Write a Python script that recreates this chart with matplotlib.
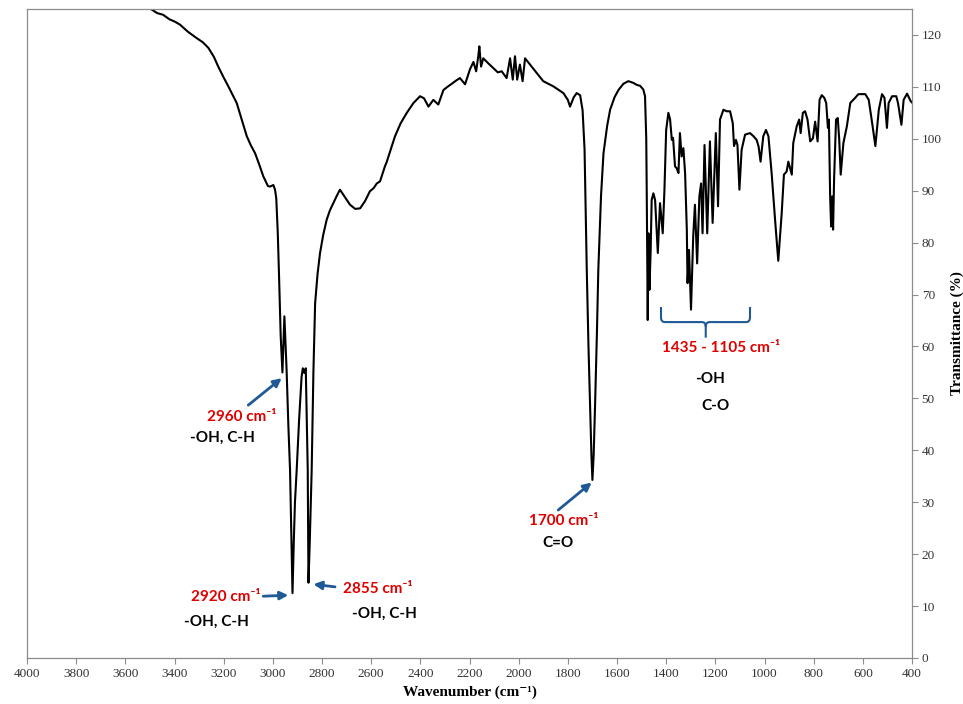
import numpy as np
import matplotlib
matplotlib.use('Agg')
import matplotlib.pyplot as plt
from matplotlib.path import Path
from matplotlib.patches import PathPatch

# spectrum (wavenumber cm-1, transmittance %)
wavenumber = [
	3493, 3470, 3447, 3420, 3400, 3378, 3345, 3310, 3285, 3262, 3240, 3222, 3200, 3181, 3165,
	3147, 3125, 3106, 3090, 3072, 3055, 3039, 3020, 3011, 2998, 2991, 2986, 2980, 2975, 2968,
	2961, 2953, 2948, 2944, 2937, 2930, 2924, 2920, 2915, 2910, 2903, 2893, 2883, 2878, 2872,
	2866, 2862, 2858, 2855, 2850, 2842, 2835, 2828, 2818, 2808, 2795, 2781, 2768, 2754, 2740,
	2727, 2710, 2686, 2665, 2645, 2625, 2605, 2590, 2577, 2564, 2544, 2537, 2520, 2503, 2480,
	2455, 2428, 2401, 2385, 2367, 2347, 2327, 2306, 2290, 2272, 2255, 2239, 2218, 2198, 2184,
	2173, 2164, 2160, 2153, 2144, 2125, 2103, 2085, 2069, 2049, 2035, 2024, 2015, 2006, 1995,
	1984, 1974, 1954, 1927, 1900, 1859, 1818, 1800, 1791, 1776, 1764, 1750, 1740, 1732, 1723,
	1716, 1710, 1704, 1700, 1695, 1689, 1682, 1676, 1665, 1655, 1640, 1628, 1610, 1594, 1574,
	1554, 1535, 1520, 1506, 1493, 1486, 1481, 1479, 1475, 1472, 1468, 1463, 1459, 1452, 1445,
	1434, 1425, 1414, 1407, 1400, 1391, 1384, 1377, 1372, 1364, 1357, 1350, 1344, 1337, 1330,
	1323, 1316, 1313, 1307, 1299, 1290, 1283, 1274, 1265, 1258, 1252, 1244, 1233, 1222, 1211,
	1198, 1189, 1181, 1167, 1154, 1140, 1129, 1124, 1116, 1110, 1102, 1093, 1079, 1059, 1045,
	1032, 1024, 1016, 1005, 994, 984, 971, 957, 944, 930, 921, 910, 903, 889, 883,
	869, 859, 853, 844, 835, 825, 814, 803, 794, 784, 776, 767, 757, 749, 742,
	738, 733, 729, 725, 721, 717, 709, 702, 696, 690, 679, 665, 651, 631, 618,
	590, 576, 562, 549, 535, 522, 512, 502, 495, 481, 464, 457, 443, 434, 420,
	406, 400,
]
transmittance = [
	124.9, 124.2, 123.9, 123.0, 122.6, 122.0, 120.6, 119.4, 118.6, 117.5, 115.8, 113.9, 111.8, 110.1, 108.6,
	106.9, 103.5, 100.5, 98.8, 97.2, 95.0, 92.8, 90.9, 90.8, 91.1, 90.2, 88.5, 82.0, 74.0, 62.0,
	55.0, 65.8, 60.0, 55.5, 45.0, 36.2, 22.0, 12.5, 22.0, 30.0, 36.2, 46.0, 54.2, 55.8, 54.9,
	55.8, 46.0, 36.2, 14.5, 22.0, 36.2, 55.0, 68.3, 74.0, 78.0, 81.5, 84.4, 86.2, 87.6, 89.0,
	90.2, 89.0, 87.3, 86.5, 86.6, 88.0, 89.9, 90.5, 91.4, 91.8, 94.7, 95.5, 98.0, 100.5, 103.0,
	105.0, 106.9, 108.2, 107.8, 106.2, 107.5, 106.6, 109.4, 110.0, 110.6, 111.2, 111.7, 110.5, 113.4, 114.8,
	113.0, 116.0, 117.8, 113.9, 115.5, 114.6, 113.6, 112.8, 113.0, 111.7, 115.5, 111.4, 115.9, 111.4, 114.3,
	111.1, 115.5, 114.3, 112.7, 111.1, 110.1, 108.8, 107.5, 106.2, 108.0, 108.8, 108.4, 105.5, 98.0, 74.8,
	60.0, 49.1, 39.0, 34.3, 39.0, 49.1, 62.0, 74.8, 89.0, 97.2, 102.5, 105.6, 108.0, 109.4, 110.6,
	111.1, 110.8, 110.4, 110.2, 109.5, 108.2, 100.0, 89.5, 65.1, 81.8, 70.9, 78.6, 88.2, 89.5, 88.2,
	78.0, 87.6, 81.8, 90.2, 101.7, 105.0, 103.7, 99.8, 100.2, 94.7, 94.3, 93.4, 101.1, 96.6, 98.2,
	93.4, 82.5, 72.2, 78.6, 67.1, 81.2, 87.3, 76.0, 88.9, 91.4, 81.8, 98.8, 81.8, 99.5, 83.8,
	101.1, 87.0, 103.7, 105.6, 105.3, 105.3, 103.0, 98.6, 99.8, 98.8, 90.2, 97.9, 100.8, 101.1, 100.5,
	99.8, 98.5, 95.6, 100.5, 101.7, 100.5, 93.4, 84.4, 76.5, 85.7, 93.1, 93.7, 95.6, 93.1, 99.2,
	102.4, 103.7, 101.1, 105.0, 105.3, 103.7, 99.5, 100.1, 103.3, 99.5, 107.5, 108.4, 107.9, 106.9, 102.1,
	103.7, 88.9, 83.1, 88.9, 82.5, 92.1, 103.7, 104.0, 99.8, 93.1, 99.2, 102.4, 106.9, 107.9, 108.6,
	108.6, 107.5, 103.0, 98.6, 105.6, 108.6, 107.9, 102.1, 106.9, 108.2, 108.2, 106.9, 102.7, 107.5, 108.7,
	107.3, 107.0,
]

xTicks = list(range(4000, 399, -200))
yTicks = list(range(0, 121, 10))

# peak labels: (text, x, y)
peakLabels = [
	('2960 cm⁻¹', 3125, 46.4),
	('2920 cm⁻¹', 3190, 11.8),
	('2855 cm⁻¹', 2574, 13.3),
	('1700 cm⁻¹', 1815, 26.4),
	('1435 - 1105 cm⁻¹', 1177, 59.7),
]
groupLabels = [
	('-OH, C-H', 3207, 42.4),
	('-OH, C-H', 3231, 6.9),
	('-OH, C-H', 2548, 8.5),
	('C=O', 1840, 22.2),
	('-OH', 1222, 53.8),
	('C-O', 1201, 48.6),
]
# arrows: (tail x, tail y, head x, head y)
arrows = [
	(3100, 48.7, 2964, 53.9),
	(3039, 11.9, 2937, 12.1),
	(2747, 13.7, 2835, 14.2),
	(1839, 28.5, 1703, 33.8),
]

red = '#e00000'
blue = '#1f5a96'
grey = '#8c8c8c'
annFont = ['Lato', 'DejaVu Sans']
serif = ['Liberation Serif', 'DejaVu Serif']

fig = plt.figure(figsize=(9.63, 7.04), dpi=100)
ax = fig.add_axes([27/963, 1-658/704, (912-27)/963, (658-9)/704])

ax.plot(wavenumber, transmittance, '-', c='k', linewidth=1.5, solid_joinstyle='round')

ax.set_xlim(4000, 400)
ax.set_ylim(0, 125)
ax.set_xticks(xTicks)
ax.set_yticks(yTicks)
ax.yaxis.tick_right()
ax.yaxis.set_label_position('right')
ax.tick_params(axis='both', direction='out', length=4, width=0.8, color=grey,
	labelsize=9.5, pad=3)
for lab in ax.get_xticklabels() + ax.get_yticklabels():
	lab.set_family(serif)
	lab.set_color('#333333')
for sp in ax.spines.values():
	sp.set_color(grey)
	sp.set_linewidth(0.9)

ax.set_xlabel('Wavenumber (cm⁻¹)', family=serif, fontweight='bold', fontsize=11, labelpad=4)
ax.set_ylabel('Transmittance (%)', family=serif, fontweight='bold', fontsize=11, labelpad=6)

for txt, x, y in peakLabels:
	ax.text(x, y, txt, color=red, family=annFont, fontweight='bold', fontsize=11,
		ha='center', va='center')
for txt, x, y in groupLabels:
	ax.text(x, y, txt, color='k', family=annFont, fontweight='bold', fontsize=11,
		ha='center', va='center')
for x0, y0, x1, y1 in arrows:
	ax.annotate('', xy=(x1, y1), xytext=(x0, y0),
		arrowprops=dict(arrowstyle='-|>', color=blue, lw=2, mutation_scale=12, shrinkA=0, shrinkB=0))

# curly brace over 1435 - 1105
bl, br, bc = 1421, 1059, 1239
yTop, yBar, yTip = 67.6, 64.7, 61.7
dx, dy = 16, 0.9
verts = [
	(bl, yTop), (bl, yBar + dy), (bl, yBar), (bl - dx, yBar),
	(bc + dx, yBar), (bc, yBar), (bc, yBar - dy), (bc, yTip),
	(bc, yBar - dy), (bc, yBar), (bc - dx, yBar),
	(br + dx, yBar), (br, yBar), (br, yBar + dy), (br, yTop),
]
codes = [Path.MOVETO, Path.LINETO, Path.CURVE3, Path.CURVE3,
	Path.LINETO, Path.CURVE3, Path.CURVE3, Path.LINETO,
	Path.MOVETO, Path.CURVE3, Path.CURVE3,
	Path.LINETO, Path.CURVE3, Path.CURVE3, Path.LINETO]
ax.add_patch(PathPatch(Path(verts, codes), fill=False, edgecolor=blue, lw=1.5))

fig.savefig('out.png', dpi=100)
